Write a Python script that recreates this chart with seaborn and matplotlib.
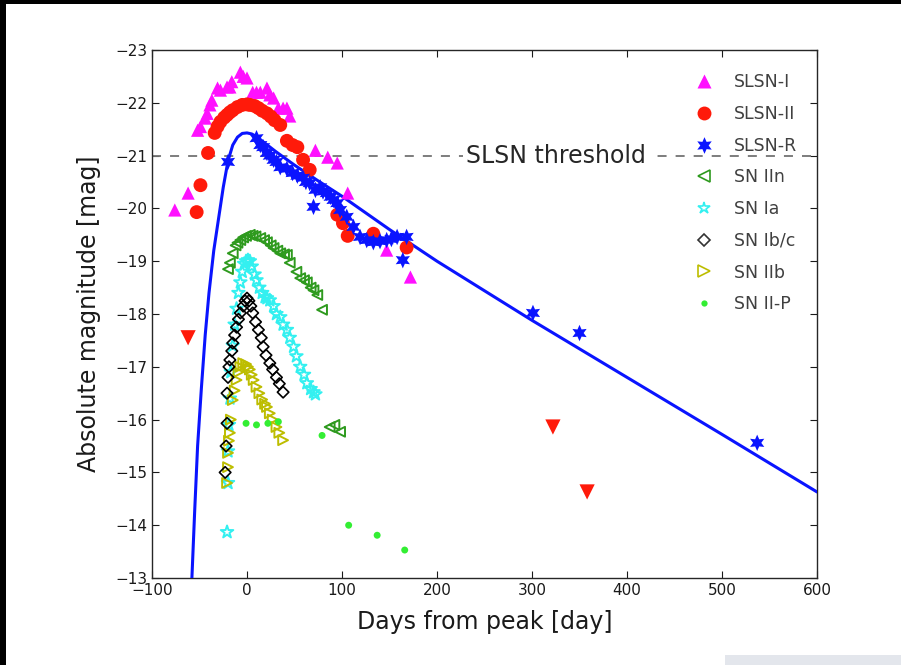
import matplotlib
matplotlib.use("Agg")
import matplotlib.pyplot as plt
from matplotlib.lines import Line2D
from matplotlib.patches import Rectangle
import seaborn as sns

# light-curve points: days from peak / absolute magnitude
slsn1_day = [-76, -62, -52, -49, -44, -42, -39, -37, -31, -28, -21, -18, -16, -7, -4, 0,
             6, 10, 14, 21, 24, 28, 33, 38, 42, 45, 72, 85, 95, 106, 147, 172]
slsn1_mag = [-19.97, -20.29, -21.48, -21.55, -21.71, -21.8, -21.96, -22.05, -22.28, -22.24,
             -22.3, -22.3, -22.4, -22.58, -22.5, -22.47, -22.2, -22.2, -22.2, -22.28, -22.15,
             -22.09, -21.9, -21.9, -21.9, -21.75, -21.1, -20.97, -20.86, -20.29, -19.21, -18.7]

slsn2_day = [-53, -49, -41, -34, -31, -28, -24, -21, -18, -15, -10, -5, 0, 3, 8, 12, 16,
             21, 25, 29, 35, 42, 48, 53, 59, 66, 95, 101, 106, 133, 168]
slsn2_mag = [-19.93, -20.44, -21.05, -21.43, -21.55, -21.64, -21.72, -21.77, -21.82, -21.86,
             -21.92, -21.96, -21.97, -21.96, -21.94, -21.9, -21.85, -21.8, -21.74, -21.67,
             -21.58, -21.28, -21.2, -21.16, -20.92, -20.73, -19.88, -19.72, -19.48, -19.52,
             -19.26]
# upper limits (red downward triangles)
lim_day = [-62, 322, 358]
lim_mag = [-17.55, -15.86, -14.63]

slsnr_day = [-20, 10, 14, 17, 21, 24, 28, 31, 35, 42, 48, 53, 59, 62, 66, 70, 72, 77, 80,
             84, 88, 91, 95, 98, 105, 112, 119, 126, 133, 140, 147, 152, 158, 164, 168,
             301, 350, 537]
slsnr_mag = [-20.88, -21.33, -21.2, -21.16, -21.05, -21.0, -20.92, -20.88, -20.78, -20.75,
             -20.67, -20.62, -20.58, -20.5, -20.48, -20.03, -20.35, -20.4, -20.32, -20.29,
             -20.22, -20.16, -20.1, -19.97, -19.84, -19.65, -19.46, -19.4, -19.36, -19.38,
             -19.4, -19.42, -19.46, -19.02, -19.46, -18.02, -17.64, -15.56]

iin_day = [-20, -18, -15, -12, -10, -7, -4, -1, 3, 6, 9, 14, 18, 21, 25, 28, 32, 35, 39,
           42, 45, 52, 56, 60, 63, 67, 70, 74, 79, 87, 92, 98]
iin_mag = [-18.85, -18.97, -19.15, -19.3, -19.35, -19.4, -19.45, -19.48, -19.5, -19.48,
           -19.47, -19.44, -19.4, -19.36, -19.3, -19.25, -19.2, -19.15, -19.13, -19.12,
           -18.97, -18.8, -18.68, -18.64, -18.6, -18.5, -18.45, -18.36, -18.08, -15.86,
           -15.9, -15.77]

ia_day = [-21, -20, -20, -19, -18, -17, -15, -13, -11, -9, -7, -5, -3, -1, 1, 3, 5, 8, 10,
          13, 16, 19, 21, 24, 28, 31, 35, 38, 42, 45, 49, 52, 56, 60, 63, 67, 70, 72]
ia_mag = [-13.87, -14.8, -15.4, -15.9, -16.4, -16.9, -17.4, -17.8, -18.1, -18.4, -18.6,
          -18.8, -18.95, -19.0, -19.02, -19.0, -18.9, -18.75, -18.64, -18.5, -18.4, -18.32,
          -18.3, -18.26, -18.15, -18.0, -17.94, -17.8, -17.7, -17.55, -17.38, -17.2, -17.0,
          -16.85, -16.69, -16.58, -16.52, -16.48]

ibc_day = [-23, -22, -21, -21, -20, -19, -18, -16, -15, -13, -11, -9, -7, -4, -2, 0, 2, 4,
           6, 9, 12, 15, 17, 20, 24, 27, 31, 34, 38]
ibc_mag = [-15.0, -15.5, -15.93, -16.5, -16.8, -17.0, -17.13, -17.3, -17.45, -17.6, -17.75,
           -17.9, -18.02, -18.15, -18.25, -18.3, -18.25, -18.15, -18.02, -17.85, -17.7,
           -17.55, -17.38, -17.22, -17.07, -16.95, -16.8, -16.68, -16.52]

iib_day = [-21, -20, -20, -19, -18, -17, -15, -13, -11, -9, -7, -4, -1, 1, 3, 5, 7, 10, 13,
           16, 19, 21, 24, 27, 31, 34, 38]
iib_mag = [-14.8, -15.1, -15.37, -15.6, -15.75, -16.0, -16.37, -16.55, -16.75, -16.9, -17.0,
           -17.07, -17.05, -17.0, -16.95, -16.85, -16.75, -16.62, -16.5, -16.38, -16.3,
           -16.24, -16.12, -16.0, -15.86, -15.75, -15.61]

iip_day = [-1, 10, 22, 33, 79, 107, 137, 166]
iip_mag = [-15.93, -15.9, -15.93, -15.96, -15.7, -14.0, -13.81, -13.53]

# model light curve (blue line)
model_day = [-58, -55, -52, -48, -44, -40, -35, -30, -25, -20, -15, -10, -5, 0, 5, 10, 20,
             30, 50, 75, 100, 150, 200, 300, 400, 500, 600]
model_mag = [-13.0, -14.3, -15.5, -16.6, -17.6, -18.4, -19.2, -19.8, -20.4, -20.9, -21.2,
             -21.35, -21.42, -21.43, -21.41, -21.36, -21.22, -21.08, -20.82, -20.52, -20.23,
             -19.6, -19.0, -17.88, -16.8, -15.72, -14.63]

threshold = -21

sns.set_style("ticks")
plt.rcParams['font.family'] = ['DejaVu Sans']

fig = plt.figure(figsize=(9.01, 6.65), dpi=100)
ax = fig.add_axes([0.1687, 0.1308, 0.7381, 0.7940])

c_iin = '#2e9a1e'
c_ia = '#33f0f0'
c_iib = '#bdbd00'
c_iip = '#33ee33'

ax.axhline(threshold, color='0.45', ls=(0, (5, 5)), lw=1.3, zorder=1)
ax.text(325, threshold, 'SLSN threshold', fontsize=17, ha='center', va='center',
        color='0.15', bbox=dict(fc='white', ec='none', pad=2), zorder=2)

sns.lineplot(x=model_day, y=model_mag, ax=ax, color='#0a14ff', lw=2.2, zorder=3,
             estimator=None, sort=False)

sns.scatterplot(x=iin_day, y=iin_mag, ax=ax, marker='<', s=50, color=c_iin,
                facecolor='none', edgecolor=c_iin, linewidth=1.4, zorder=4)
sns.scatterplot(x=ia_day, y=ia_mag, ax=ax, marker='*', s=90, color=c_ia,
                facecolor='none', edgecolor=c_ia, linewidth=1.4, zorder=4)
sns.scatterplot(x=iib_day, y=iib_mag, ax=ax, marker='>', s=50, color=c_iib,
                facecolor='none', edgecolor=c_iib, linewidth=1.4, zorder=4)
sns.scatterplot(x=ibc_day, y=ibc_mag, ax=ax, marker='D', s=34, color='black',
                facecolor='none', edgecolor='black', linewidth=1.2, zorder=4)
sns.scatterplot(x=iip_day, y=iip_mag, ax=ax, marker='o', s=25, color=c_iip,
                edgecolor='none', zorder=4)
sns.scatterplot(x=slsn1_day, y=slsn1_mag, ax=ax, marker='^', s=90, color='#ff10ff',
                edgecolor='none', zorder=5)
sns.scatterplot(x=slsn2_day, y=slsn2_mag, ax=ax, marker='o', s=100, color='#ff1a0a',
                edgecolor='none', zorder=6)
sns.scatterplot(x=lim_day, y=lim_mag, ax=ax, marker='v', s=120, color='#ff1a0a',
                edgecolor='none', zorder=6)
sns.scatterplot(x=slsnr_day, y=slsnr_mag, ax=ax, marker=(6, 1, 0), s=140, color='#0a14ff',
                edgecolor='none', zorder=7)

ax.set_xlim(-100, 600)
ax.set_ylim(-13, -23)
ax.set_xticks(range(-100, 601, 100))
ax.set_yticks(range(-23, -12, 1))
ax.tick_params(direction='in', top=True, right=True, length=5, width=0.8,
               labelsize=11, colors='0.1')
for s in ax.spines.values():
    s.set_visible(True)
    s.set_linewidth(1.0)
    s.set_color('0.15')
ax.set_xlabel('Days from peak [day]', fontsize=17, color='0.1', labelpad=9)
ax.set_ylabel('Absolute magnitude [mag]', fontsize=17, color='0.1', labelpad=10)

handles = [
    Line2D([], [], ls='none', marker='^', ms=10, color='#ff10ff', mec='none'),
    Line2D([], [], ls='none', marker='o', ms=10, color='#ff1a0a', mec='none'),
    Line2D([], [], ls='none', marker=(6, 1, 0), ms=12, color='#0a14ff', mec='none'),
    Line2D([], [], ls='none', marker='<', ms=8, mfc='none', mec=c_iin, mew=1.2),
    Line2D([], [], ls='none', marker='*', ms=9, mfc='none', mec=c_ia, mew=1.2),
    Line2D([], [], ls='none', marker='D', ms=6.5, mfc='none', mec='0.2', mew=1.2),
    Line2D([], [], ls='none', marker='>', ms=8, mfc='none', mec=c_iib, mew=1.2),
    Line2D([], [], ls='none', marker='o', ms=4.5, color=c_iip, mec='none'),
]
labels = ['SLSN-I', 'SLSN-II', 'SLSN-R', 'SN IIn', 'SN Ia', 'SN Ib/c', 'SN IIb', 'SN II-P']
leg = ax.legend(handles, labels, loc='upper left', bbox_to_anchor=(0.812, 0.956),
                frameon=False, fontsize=12.5, labelspacing=0.79, handlelength=1.4,
                handletextpad=1.0, borderpad=0, borderaxespad=0)
for t in leg.get_texts():
    t.set_color('0.25')

# screenshot borders
fig.patches.append(Rectangle((0, 1 - 4 / 665), 1, 4 / 665, transform=fig.transFigure,
                             fc='black', ec='none'))
fig.patches.append(Rectangle((0, 0), 6 / 901, 1, transform=fig.transFigure,
                             fc='black', ec='none'))
fig.patches.append(Rectangle((725 / 901, 0), 176 / 901, 10 / 665, transform=fig.transFigure,
                             fc='#e3e6ec', ec='none'))

fig.savefig('out.png', dpi=100)
